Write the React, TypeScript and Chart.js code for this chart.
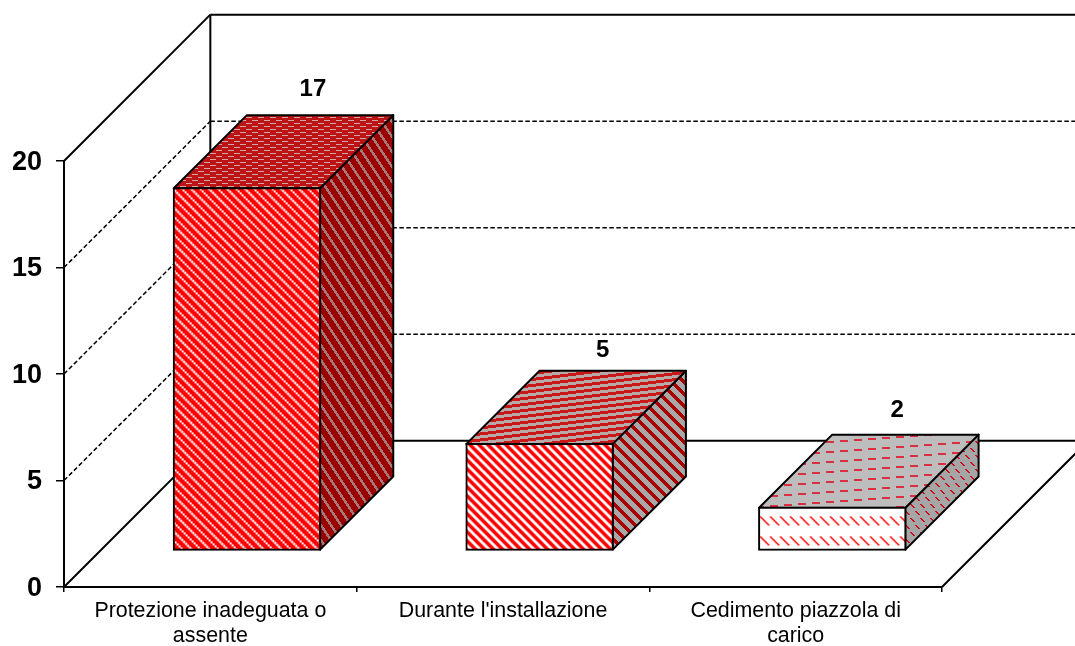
import React, { useEffect, useRef } from "react";
import { Chart, registerables } from "chart.js";

Chart.register(...registerables);

const categories = [["Protezione inadeguata o", "assente"], "Durante l'installazione", ["Cedimento piazzola di", "carico"]];
const values = [17, 5, 2];
const yMax = 20;
const yStep = 5;
const FONT = "'Liberation Sans', Arial, sans-serif";

const mod = (a: number, n: number) => ((a % n) + n) % n;

function tile(ctx: CanvasRenderingContext2D, w: number, h: number, bg: string, fg: string, on: (x: number, y: number) => boolean) {
  const c = document.createElement("canvas");
  c.width = w;
  c.height = h;
  const g = c.getContext("2d")!;
  g.fillStyle = bg;
  g.fillRect(0, 0, w, h);
  g.fillStyle = fg;
  for (let y = 0; y < h; y++) for (let x = 0; x < w; x++) if (on(x, y)) g.fillRect(x, y, 1, 1);
  return ctx.createPattern(c, "repeat")!;
}

function buildPatterns(ctx: CanvasRenderingContext2D) {
  const front = [
    tile(ctx, 36, 36, "#ff0000", "#ffffff", (x, y) => mod(x - y, 9) < 3 && mod(x + y, 4) < 3),
    tile(ctx, 9, 9, "#ff0000", "#ffffff", (x, y) => mod(x - y, 9) < 4),
    tile(ctx, 10, 20, "#ffffff", "#ff0000", (x, y) => mod(y - 13, 20) < 9 && mod(x - y, 10) < 2),
  ];
  const side = [
    tile(ctx, 10, 15, "#9a0000", "#a87878", (x, y) => mod(x - Math.floor((y * 2) / 3), 10) < 3),
    tile(ctx, 12, 12, "#a8a8a8", "#a80000", (x, y) => mod(x - y, 12) < 5),
    tile(ctx, 10, 14, "#a6a6a6", "#c81020", (x, y) => mod(y, 7) < 4 && mod(x + Math.floor(y / 7) * 5 - mod(y, 7), 10) < 2),
  ];
  const top = [
    tile(ctx, 12, 6, "#bc1414", "#d0a8a8", (x, y) => y % 3 === 0 && mod(x - Math.floor(y / 3) * 6, 12) < 6),
    tile(ctx, 48, 6, "#b8a8a8", "#c81818", (x, y) => mod(y + Math.floor(x / 8), 6) < 3),
    tile(ctx, 140, 10, "#bdbdbd", "#d83040", (x, y) => mod(y + Math.floor(x / 14), 10) < 2 && mod(x, 14) < 8),
  ];
  return { front, side, top };
}

export default function App() {
  const ref = useRef<HTMLCanvasElement>(null);

  useEffect(() => {
    document.body.style.margin = "0";
    const canvas = ref.current!;
    const ctx = canvas.getContext("2d")!;
    const patterns = buildPatterns(ctx);

    const line = (c: CanvasRenderingContext2D, x1: number, y1: number, x2: number, y2: number) => {
      c.beginPath();
      c.moveTo(x1, y1);
      c.lineTo(x2, y2);
      c.stroke();
    };

    const face = (c: CanvasRenderingContext2D, pts: number[][], fill: CanvasPattern) => {
      c.beginPath();
      pts.forEach((p, i) => (i ? c.lineTo(p[0], p[1]) : c.moveTo(p[0], p[1])));
      c.closePath();
      c.fillStyle = fill;
      c.fill();
      c.stroke();
    };

    const box3d = {
      id: "box3d",
      beforeDraw(chart: any) {
        const s = chart.scales.y;
        if (s.__shifted) return;
        s.__shifted = true;
        const orig = s.drawLabels;
        s.drawLabels = function (area: any) {
          chart.ctx.save();
          chart.ctx.translate(0, 1.5);
          orig.call(s, area);
          chart.ctx.restore();
        };
      },
      beforeDatasetsDraw(chart: any) {
        const c: CanvasRenderingContext2D = chart.ctx;
        const { chartArea: a, scales } = chart;
        const yS = scales.y;
        const bars = chart.getDatasetMeta(0).data;
        const wall = (a.right - a.left) / values.length / 2;
        const cw = canvas.width;

        c.save();
        c.strokeStyle = "#000";
        // dashed grid on the side wall and back wall
        c.lineWidth = 1.5;
        c.setLineDash([4.5, 2.5]);
        yS.ticks.forEach((t: any) => {
          if (t.value === 0 || t.value === yMax) return;
          const y = yS.getPixelForValue(t.value);
          line(c, a.left, y, a.left + wall, y - wall);
          line(c, a.left + wall, y - wall, cw, y - wall);
        });
        c.setLineDash([]);
        // solid frame
        c.lineWidth = 2;
        const y0 = yS.getPixelForValue(0);
        const yT = yS.getPixelForValue(yMax);
        line(c, a.left, yT, a.left + wall, yT - wall);
        line(c, a.left + wall, yT - wall, a.left + wall, y0 - wall);
        line(c, a.left + wall, yT - wall, cw, yT - wall);
        line(c, a.left, y0, a.left + wall, y0 - wall);
        line(c, a.left + wall, y0 - wall, cw, y0 - wall);
        line(c, a.right, y0, a.right + wall, y0 - wall);

        // side and top faces of every bar, from the bars' own geometry
        c.lineWidth = 2;
        c.lineJoin = "round";
        bars.forEach((b: any, i: number) => {
          const off = b.width / 4;
          const d = b.width / 2;
          const l = b.x - b.width / 2 + off;
          const r = b.x + b.width / 2 + off;
          const t = b.y - off;
          const bot = b.base - off;
          face(c, [[r, t], [r + d, t - d], [r + d, bot - d], [r, bot]], patterns.side[i]);
          face(c, [[l, t], [l + d, t - d], [r + d, t - d], [r, t]], patterns.top[i]);
        });
        c.restore();

        // the bars themselves are pushed forward on to the floor
        const off = bars[0].width / 4;
        c.save();
        c.translate(off, -off);
      },
      afterDatasetsDraw(chart: any) {
        chart.ctx.restore();
      },
      afterDraw(chart: any) {
        const c: CanvasRenderingContext2D = chart.ctx;
        const bars = chart.getDatasetMeta(0).data;
        const lift = [99, 94, 97];
        const shift = [66, 63, 65];
        c.save();
        c.font = `bold 24px ${FONT}`;
        c.fillStyle = "#000";
        c.textAlign = "center";
        c.textBaseline = "middle";
        bars.forEach((b: any, i: number) => {
          const off = b.width / 4;
          c.fillText(String(values[i]), b.x + off + shift[i], b.y - off - lift[i]);
        });
        c.restore();
      },
    };

    const chart = new Chart(canvas, {
      type: "bar",
      data: {
        labels: categories as any,
        datasets: [
          {
            data: values,
            backgroundColor: patterns.front as any,
            borderColor: "#000",
            borderWidth: 2,
            borderSkipped: false,
            inflateAmount: 1,
            barPercentage: 0.5,
            categoryPercentage: 1,
            clip: false as any,
          },
        ],
      },
      options: {
        animation: false,
        responsive: false,
        events: [],
        layout: { padding: { top: 161, right: 133, left: 0, bottom: 0 } },
        plugins: { legend: { display: false }, title: { display: false }, tooltip: { enabled: false } },
        scales: {
          x: {
            afterFit: (s: any) => { s.height = 59; },
            grid: { drawOnChartArea: false, drawTicks: true, tickLength: 5, color: "#000", lineWidth: 1.5 },
            border: { color: "#000", width: 2 },
            ticks: { color: "#000", font: { family: FONT, size: 21.4, lineHeight: 1.2 }, padding: 6, maxRotation: 0, autoSkip: false },
          },
          y: {
            min: 0,
            max: yMax,
            afterFit: (s: any) => { s.width = 64; },
            grid: { drawOnChartArea: false, drawTicks: true, tickLength: 8, color: "#000", lineWidth: 1.5 },
            border: { color: "#000", width: 2 },
            ticks: { stepSize: yStep, color: "#000", font: { family: FONT, size: 27, weight: "bold" }, padding: 14 },
          },
        },
      },
      plugins: [box3d],
    });
    return () => chart.destroy();
  }, []);

  return <canvas ref={ref} width={1075} height={646} style={{ display: "block" }} />;
}
